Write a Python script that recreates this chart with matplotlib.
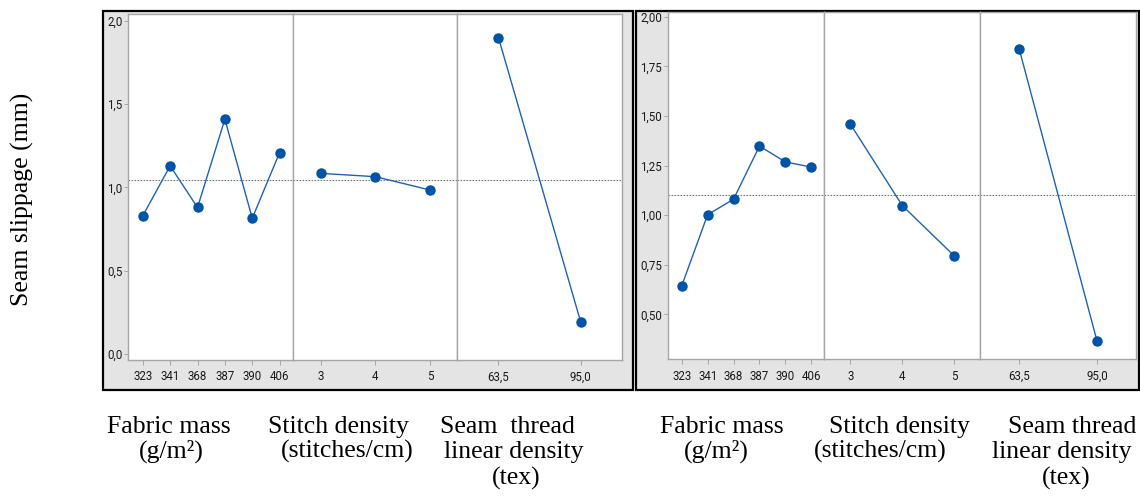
import matplotlib
matplotlib.use("Agg")
import matplotlib.pyplot as plt
from matplotlib.patches import Rectangle
from matplotlib import font_manager

# ---------------- data ----------------
fabric_mass = ['323', '341', '368', '387', '390', '406']
stitch_density = ['3', '4', '5']
thread_density = ['63,5', '95,0']

left_fabric = [0.83, 1.13, 0.88, 1.41, 0.815, 1.21]
left_stitch = [1.085, 1.065, 0.985]
left_thread = [1.90, 0.19]
left_mean = 1.047

right_fabric = [0.643, 1.002, 1.080, 1.348, 1.268, 1.242]
right_stitch = [1.459, 1.048, 0.794]
right_thread = [1.837, 0.364]
right_mean = 1.10

left_yticks = [0.0, 0.5, 1.0, 1.5, 2.0]
left_yticklabels = ['0,0', '0,5', '1,0', '1,5', '2,0']
right_yticks = [0.50, 0.75, 1.00, 1.25, 1.50, 1.75, 2.00]
right_yticklabels = ['0,50', '0,75', '1,00', '1,25', '1,50', '1,75', '2,00']

factor_labels = [
    ['Fabric mass', '(g/m²)'],
    ['Stitch density', '(stitches/cm)'],
    ['Seam  thread', 'linear density', '(tex)'],
]
factor_labels_right = [
    ['Fabric mass', '(g/m²)'],
    ['Stitch density', '(stitches/cm)'],
    ['Seam thread', 'linear density', '(tex)'],
]
ylabel = 'Seam slippage (mm)'

# ---------------- figure ----------------
W, H = 1140, 498
fig = plt.figure(figsize=(W / 100, H / 100), dpi=100)
fig.patch.set_facecolor('white')

available = {f.name for f in font_manager.fontManager.ttflist}
TICKFAMILY = 'Liberation Sans Narrow' if 'Liberation Sans Narrow' in available else 'Roboto'
TICKSIZE = 9.0 if TICKFAMILY == 'Liberation Sans Narrow' else 8.3

def fx(x):
    return x / W

def fy(y):
    return 1 - y / H

def box(x0, y0, x1, y1):
    r = Rectangle((fx(x0), fy(y1)), fx(x1) - fx(x0), fy(y0) - fy(y1),
                  transform=fig.transFigure, facecolor='#e4e4e4',
                  edgecolor='black', linewidth=1.6, zorder=0)
    fig.patches.append(r)

box(103, 10.5, 633, 390)
box(636, 10.5, 1138.5, 390)

BLUE = '#0053a5'
LINE = '#1f62b5'
GRID = '#a6a6a6'

def make_panels(xedges, ytop, ybot, data, cats, ylim, yticks, yticklabels, mean):
    axes = []
    for i, (x0, x1) in enumerate(zip(xedges[:-1], xedges[1:])):
        ax = fig.add_axes([fx(x0), fy(ybot), fx(x1) - fx(x0), fy(ytop) - fy(ybot)])
        ax.set_facecolor('white')
        ax.set_zorder(1)
        n = len(cats[i])
        xs = list(range(n))
        ax.plot(xs, data[i], color=LINE, lw=1.0, zorder=3)
        ax.plot(xs, data[i], 'o', color=BLUE, ms=6.5, zorder=4,
                markeredgecolor=BLUE)
        ax.axhline(mean, color='#777777', lw=0.8, ls=(0, (1.5, 1.2)), zorder=2)
        if i == 0:
            ax.set_xlim(-0.54, n - 0.5)
        else:
            ax.set_xlim(-0.5, n - 0.5)
        ax.set_ylim(*ylim)
        ax.set_xticks(xs)
        ax.set_xticklabels(cats[i], fontfamily=TICKFAMILY, fontsize=TICKSIZE, color='#1a1a1a')
        ax.tick_params(axis='x', length=3.5, width=0.7, color=GRID, pad=4)
        if i == 0:
            ax.set_yticks(yticks)
            ax.set_yticklabels(yticklabels, fontfamily=TICKFAMILY, fontsize=TICKSIZE, color='#1a1a1a')
            ax.tick_params(axis='y', length=3, width=0.7, color=GRID, pad=1)
        else:
            ax.set_yticks([])
        for s in ax.spines.values():
            s.set_color(GRID)
            s.set_linewidth(1.0)
        axes.append(ax)
    return axes

cats = [fabric_mass, stitch_density, thread_density]

make_panels([128, 293.3, 457.3, 622], 14, 360,
            [left_fabric, left_stitch, left_thread], cats,
            (-0.036, 2.042), left_yticks, left_yticklabels, left_mean)

make_panels([667.7, 824.3, 980.3, 1136], 12, 359.3,
            [right_fabric, right_stitch, right_thread], cats,
            (0.273, 2.024), right_yticks, right_yticklabels, right_mean)

# ---------------- serif labels ----------------
serif = dict(family='Liberation Serif', size=18.5, color='black')
baselines = [433, 458, 485]

left_centers = [[168.5, 171], [338, 347], [507.5, 513.5, 516.5]]
right_centers = [[722, 716.5], [899.5, 880.5], [1072, 1061.5, 1066]]

for labels, centers in ((factor_labels, left_centers), (factor_labels_right, right_centers)):
    for lines, cxs in zip(labels, centers):
        for j, (txt, cx) in enumerate(zip(lines, cxs)):
            fig.text(fx(cx), fy(baselines[j]), txt, ha='center', va='baseline',
                     **serif)

fig.text(fx(22), fy(199), ylabel, rotation=90, ha='center', va='center', **serif)

fig.savefig('out.png', dpi=100)
